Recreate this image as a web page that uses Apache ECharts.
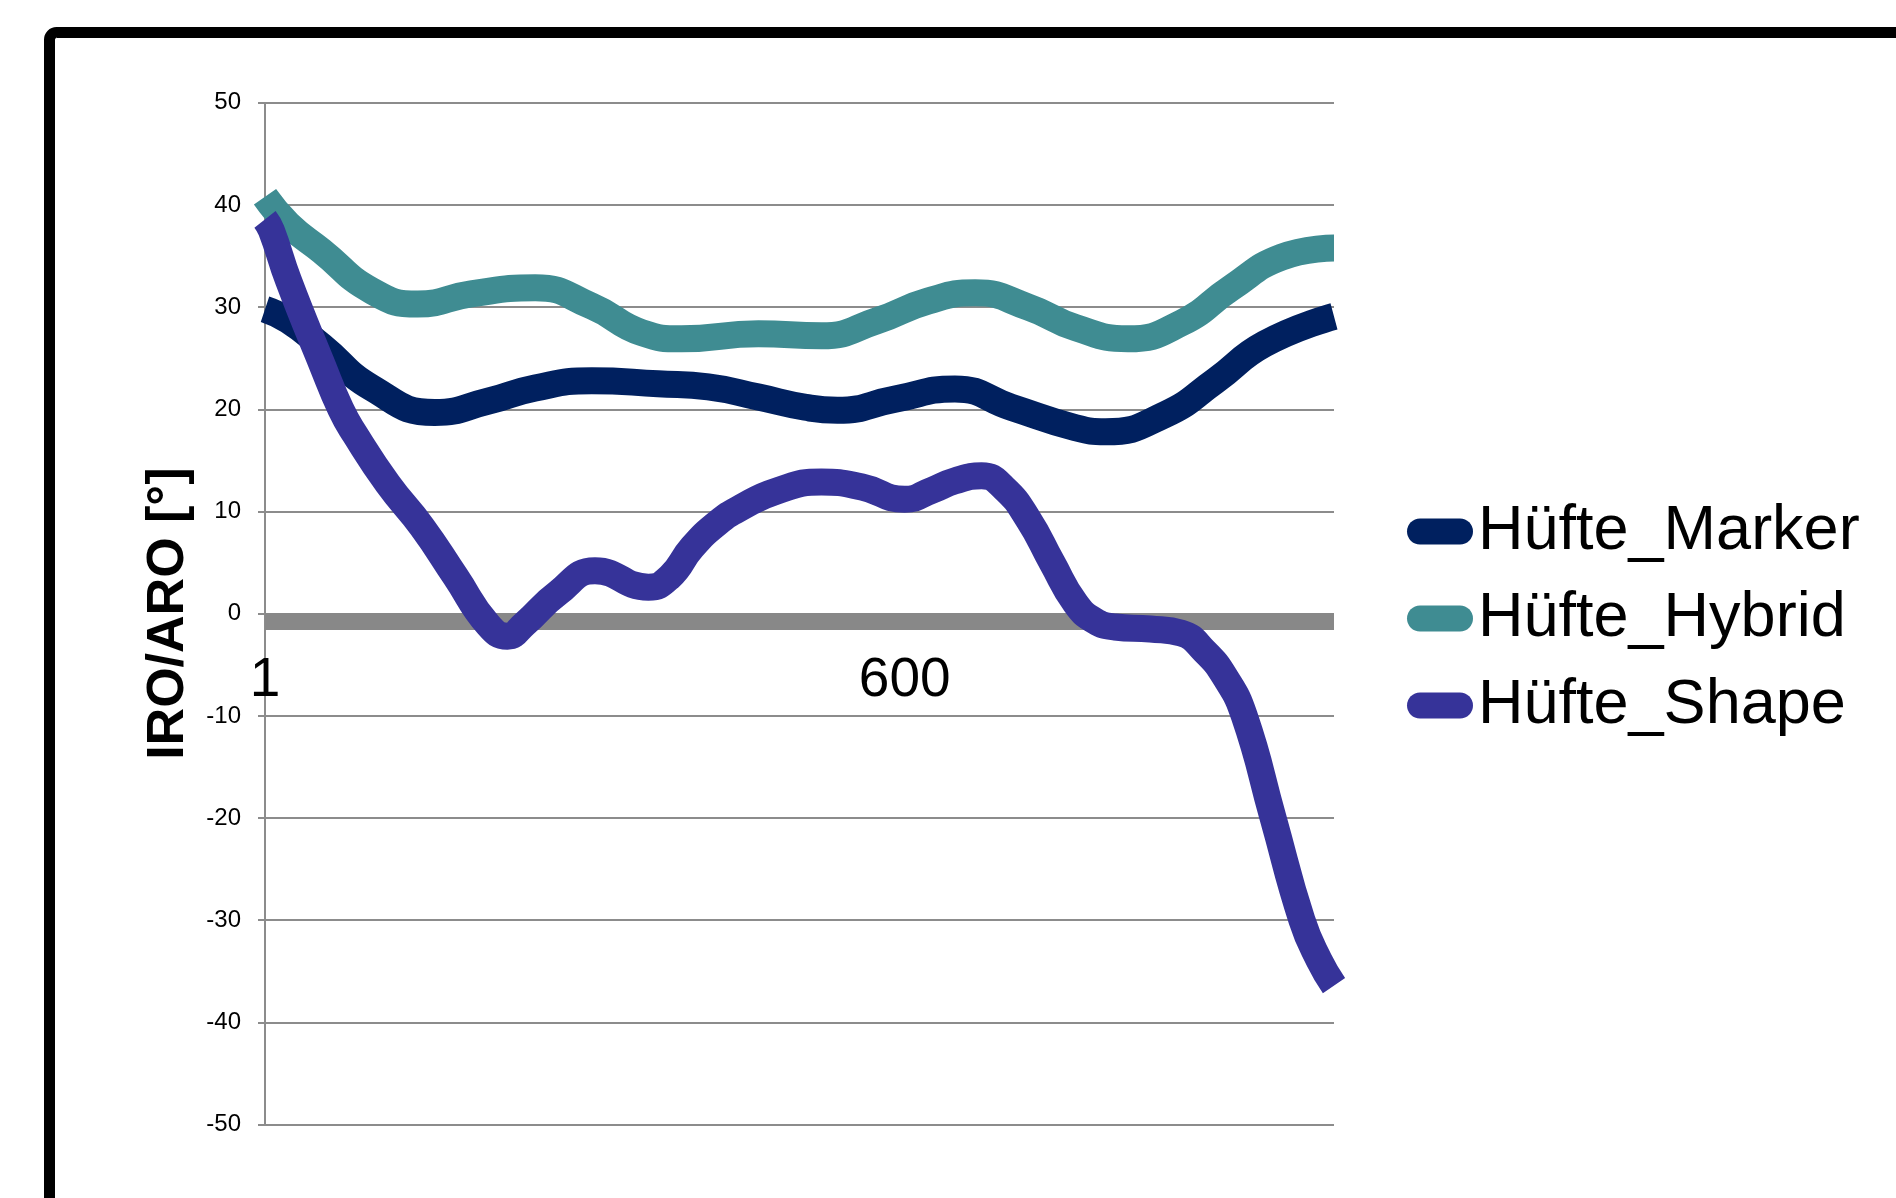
<!DOCTYPE html>
<html>
<head>
<meta charset="utf-8">
<title>Hüfte IRO/ARO</title>
<script src="https://cdn.jsdelivr.net/npm/echarts@6/dist/echarts.min.js"></script>
<style>
  html, body { margin: 0; padding: 0; background: #ffffff; }
  #chart { width: 1896px; height: 1198px; }
</style>
</head>
<body>
<div id="chart"></div>
<script>
// Hip rotation angle (degrees) over the frame index, one x/y pair of arrays per method.
// Points are taken at the turning points and along the slopes of each curve.
const MARKER_X = [1, 23, 54, 101, 160, 210, 254, 307, 369, 416, 463, 507, 537, 591, 647,
  700, 760, 788, 844, 891, 937, 1002];
const MARKER_Y = [29.8, 28.7, 26.2, 22.1, 19.7, 20.8, 22.1, 22.8, 22.5, 22.2, 21.2, 20.2,
  19.9, 21.0, 22.0, 20.2, 18.2, 17.8, 19.5, 22.8, 26.4, 29.1];

const HYBRID_X = [1, 23, 54, 101, 144, 194, 254, 307, 354, 391, 463, 522, 575, 622, 666,
  716, 760, 809, 860, 906, 953, 1002];
const HYBRID_Y = [40.8, 38.1, 35.5, 31.6, 30.3, 31.3, 31.9, 30.1, 27.5, 26.9, 27.4, 27.2,
  28.7, 30.6, 31.4, 30.0, 28.0, 26.9, 28.5, 31.9, 34.9, 35.8];

const SHAPE_X = [1, 7, 23, 54, 72, 85, 116, 148, 179, 210, 228, 244, 275, 310, 360, 380, 401,
  425, 447, 480, 522, 560, 600, 626, 647, 672, 693, 716, 738, 760, 778, 797, 830, 859, 881,
  900, 918, 945, 972, 988, 1002];
const SHAPE_Y = [38.6, 37.5, 32.6, 24.5, 20.0, 17.6, 12.7, 8.5, 3.7, -1.1, -2.2, -1.0, 2.0,
  4.2, 2.6, 3.6, 6.5, 8.9, 10.4, 12.0, 12.9, 12.4, 11.2, 12.1, 13.0, 13.5, 12.3, 9.2, 5.0,
  1.0, -0.7, -1.3, -1.5, -1.9, -3.7, -6.2, -10.0, -20.0, -30.0, -33.9, -36.4];

// Axis labelling
const X_LABELS = [1, 600];
const X_MIN = 1;
const X_MAX = 1002;
const Y_MIN = -50;
const Y_MAX = 50;
const Y_STEP = 10;

const SERIES_NAMES = ['Hüfte_Marker', 'Hüfte_Hybrid', 'Hüfte_Shape'];
const SERIES_X = [MARKER_X, HYBRID_X, SHAPE_X];
const SERIES_Y = [MARKER_Y, HYBRID_Y, SHAPE_Y];
const SERIES_COLORS = ['#00205f', '#3f8c92', '#363399'];

const FONT = '"Liberation Sans", Arial, Helvetica, sans-serif';
const GRID_GRAY = '#8c8c8c';

const pairs = (xs, ys) => xs.map((x, i) => [x, ys[i]]);

const chart = echarts.init(document.getElementById('chart'), null, { renderer: 'canvas' });

const option = {
  backgroundColor: '#ffffff',
  animation: false,
  textStyle: { fontFamily: FONT, color: '#000000' },
  graphic: [{
    type: 'rect',
    silent: true,
    z: 100,
    shape: { x: 49.5, y: 32.5, width: 1900, height: 1300, r: 7 },
    style: { fill: 'none', stroke: '#000000', lineWidth: 11 }
  }],
  grid: {
    left: 265,
    top: 102.8,
    right: 562,
    bottom: 73.4,
    containLabel: false,
    outerBoundsMode: 'none'
  },
  legend: {
    orient: 'vertical',
    left: 1402,
    top: 495,
    itemWidth: 66,
    itemHeight: 26,
    itemGap: 24,
    icon: 'path://M13,0 L53,0 A13,13 0 0 1 53,26 L13,26 A13,13 0 0 1 13,0 Z',
    textStyle: { fontFamily: FONT, fontSize: 63, lineHeight: 63, color: '#000000' },
    data: SERIES_NAMES
  },
  xAxis: {
    type: 'value',
    min: X_MIN,
    max: X_MAX,
    position: 'bottom',
    // the thick zero-line band sits just below y = 0
    offset: -503.1,
    axisLine: { onZero: false, show: true, lineStyle: { color: '#888888', width: 17, cap: 'butt' } },
    axisTick: { show: false },
    splitLine: { show: false },
    axisLabel: {
      customValues: X_LABELS,
      margin: 32,
      fontFamily: FONT,
      fontSize: 55,
      color: '#000000'
    }
  },
  yAxis: {
    type: 'value',
    min: Y_MIN,
    max: Y_MAX,
    interval: Y_STEP,
    name: 'IRO/ARO [°]',
    nameLocation: 'middle',
    nameRotate: 90,
    nameGap: 70,
    nameTextStyle: { fontFamily: FONT, fontSize: 52, fontWeight: 'bold', color: '#000000' },
    axisLine: { show: true, lineStyle: { color: GRID_GRAY, width: 2, cap: 'butt' } },
    axisTick: { show: true, length: 7, lineStyle: { color: GRID_GRAY, width: 2 } },
    splitLine: { show: true, lineStyle: { color: GRID_GRAY, width: 2 } },
    axisLabel: { margin: 24, fontFamily: FONT, fontSize: 24, color: '#000000' }
  },
  series: SERIES_NAMES.map((name, i) => ({
    name: name,
    type: 'line',
    data: pairs(SERIES_X[i], SERIES_Y[i]),
    smooth: 0.5,
    showSymbol: false,
    symbol: 'none',
    color: SERIES_COLORS[i],
    lineStyle: { color: SERIES_COLORS[i], width: 27, join: 'round', cap: 'butt' },
    z: 3 + i
  }))
};

chart.setOption(option);
</script>
</body>
</html>
